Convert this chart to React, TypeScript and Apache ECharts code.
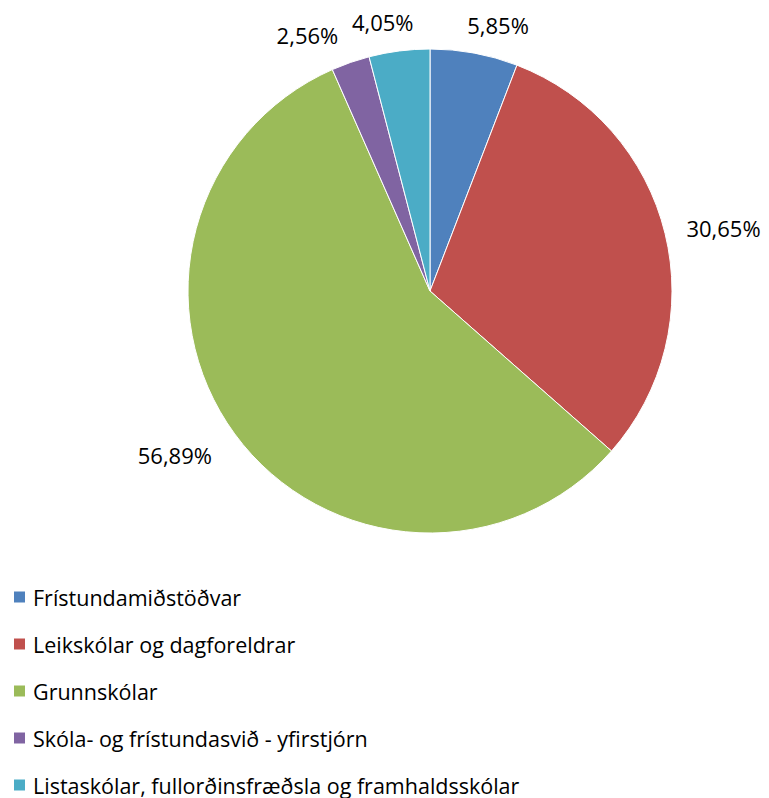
import React, { useEffect, useRef } from "react";
import * as echarts from "echarts";

const categories = [
  "Frístundamiðstöðvar",
  "Leikskólar og dagforeldrar",
  "Grunnskólar",
  "Skóla- og frístundasvið - yfirstjórn",
  "Listaskólar, fullorðinsfræðsla og framhaldsskólar",
];
const shares = [5.85, 30.65, 56.89, 2.56, 4.05];
const colors = ["#4F81BD", "#C0504D", "#9BBB59", "#8064A2", "#4BACC6"];
// small nudges for label placement (style only)
const labelNudge = [
  [-16, -6],
  [-5, 0],
  [0, 8],
  [0, -7],
  [22, -7],
];

const FONT = "Open Sans";

export default function App() {
  const ref = useRef<HTMLDivElement>(null);
  useEffect(() => {
    if (!ref.current) return;
    const chart = echarts.init(ref.current, null, { renderer: "svg" });
    chart.setOption({
      animation: false,
      color: colors,
      legend: {
        orient: "vertical",
        left: 4,
        top: 578,
        height: 240,
        padding: 0,
        icon: "rect",
        itemWidth: 13,
        itemHeight: 13,
        itemGap: 25,
        selectedMode: false,
        textStyle: {
          fontFamily: FONT,
          fontSize: 21.5,
          lineHeight: 21.5,
          color: "#000",
          padding: [0, 0, 0, 2],
        },
        data: categories,
      },
      series: [
        {
          type: "pie",
          center: [422, 283],
          radius: 242,
          startAngle: 90,
          clockwise: true,
          avoidLabelOverlap: false,
          itemStyle: { borderColor: "#fff", borderWidth: 1 },
          label: {
            show: true,
            position: "outside",
            fontFamily: FONT,
            fontSize: 22,
            color: "#000",
            formatter: (p: any) => p.value.toFixed(2).replace(".", ",") + "%",
          },
          labelLine: { show: false, length: 22, length2: 0 },
          labelLayout: (p: any) => ({
            dx: labelNudge[p.dataIndex][0],
            dy: labelNudge[p.dataIndex][1],
          }),
          emphasis: { disabled: true },
          data: categories.map((name, i) => ({ name, value: shares[i] })),
        },
      ],
    });
    return () => chart.dispose();
  }, []);
  return <div ref={ref} style={{ width: 761, height: 790 }} />;
}
